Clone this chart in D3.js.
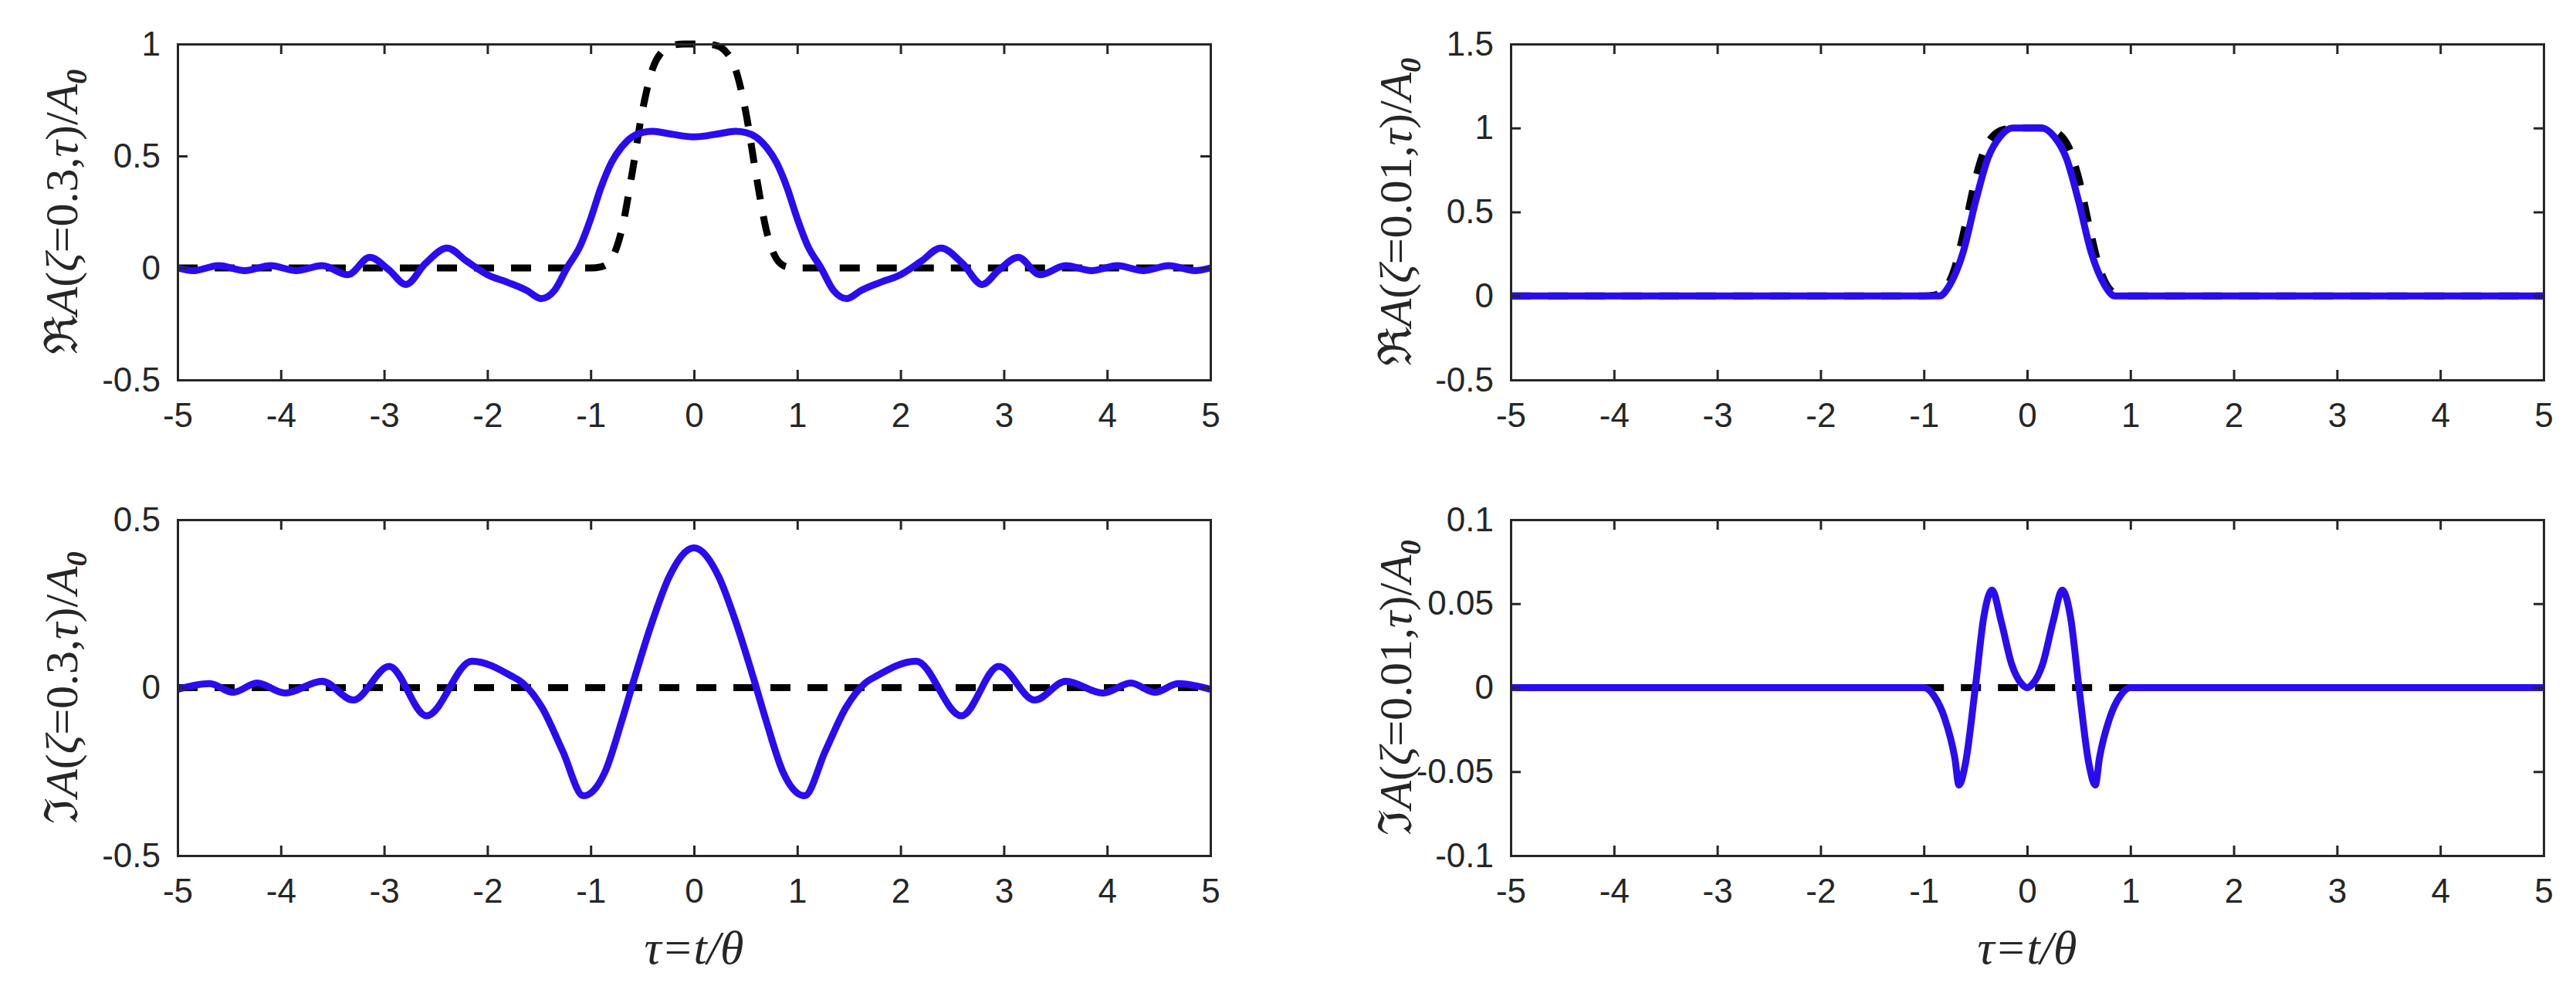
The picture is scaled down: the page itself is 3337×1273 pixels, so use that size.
<!DOCTYPE html>
<html>
<head>
<meta charset="utf-8">
<script src="https://cdn.jsdelivr.net/npm/d3@7"></script>
<style>
  body { margin: 0; background: #fff; }
  text { fill: #262626; }
</style>
</head>
<body>
<svg id="chart" width="3337" height="1273"></svg>
<script>
// x ticks shared by every panel
var xTicks = [-5, -4, -3, -2, -1, 0, 1, 2, 3, 4, 5];

// input pulse (black dashed), tau / value
var pulseTau = [-5, -1, -0.9, -0.8, -0.7, -0.6, -0.5, -0.4, -0.3, -0.2, -0.1, 0, 0.1, 0.2, 0.3, 0.4, 0.5, 0.6, 0.7, 0.8, 0.9, 1, 5];
var pulseVal = [0, 0, 0.005, 0.04, 0.17, 0.42, 0.7, 0.89, 0.97, 0.995, 1, 1, 1, 0.995, 0.97, 0.89, 0.7, 0.42, 0.17, 0.04, 0.005, 0, 0];

// Re A(zeta=0.3)
var re03Tau = [-5, -4.85, -4.6, -4.35, -4.1, -3.85, -3.6, -3.35, -3.14, -2.95, -2.79, -2.6, -2.39, -2.2, -2.0, -1.8, -1.62, -1.48, -1.35, -1.23, -1.1, -1.0, -0.9, -0.8, -0.7, -0.6, -0.5, -0.4, -0.25, 0,
                0.25, 0.4, 0.5, 0.6, 0.7, 0.8, 0.9, 1.0, 1.1, 1.23, 1.35, 1.48, 1.62, 1.8, 2.0, 2.2, 2.39, 2.6, 2.79, 2.95, 3.14, 3.35, 3.6, 3.85, 4.1, 4.35, 4.6, 4.85, 5];
var re03Val = [0, -0.012, 0.01, -0.012, 0.01, -0.012, 0.01, -0.03, 0.047, -0.01, -0.074, 0.02, 0.089, 0.03, -0.03, -0.065, -0.1, -0.137, -0.1, 0, 0.1, 0.22, 0.36, 0.47, 0.54, 0.585, 0.605, 0.61, 0.6, 0.585,
               0.6, 0.61, 0.605, 0.585, 0.54, 0.47, 0.36, 0.22, 0.1, 0, -0.1, -0.137, -0.1, -0.065, -0.03, 0.03, 0.089, 0.02, -0.074, -0.01, 0.047, -0.03, 0.01, -0.012, 0.01, -0.012, 0.01, -0.012, 0];

// Im A(zeta=0.3)
var im03Tau = [-5, -4.69, -4.46, -4.23, -3.96, -3.6, -3.3, -2.95, -2.59, -2.15, -1.77, -1.66, -1.47, -1.27, -1.07, -0.86, -0.7, -0.59, -0.4, -0.24, 0,
               0.24, 0.4, 0.59, 0.7, 0.86, 1.07, 1.27, 1.47, 1.66, 1.77, 2.15, 2.59, 2.95, 3.3, 3.6, 3.96, 4.23, 4.46, 4.69, 5];
var im03Val = [-0.005, 0.012, -0.014, 0.014, -0.016, 0.019, -0.037, 0.063, -0.084, 0.079, 0.035, 0.014, -0.06, -0.19, -0.322, -0.25, -0.1, 0.014, 0.2, 0.33, 0.416,
               0.33, 0.2, 0.014, -0.1, -0.25, -0.322, -0.19, -0.06, 0.014, 0.035, 0.079, -0.084, 0.063, -0.037, 0.019, -0.016, 0.014, -0.014, 0.012, -0.005];

// Re A(zeta=0.01)
var re001Tau = [-5, -0.85, -0.75, -0.62, -0.5, -0.38, -0.26, -0.14, 0, 0.14, 0.26, 0.38, 0.5, 0.62, 0.75, 0.85, 5];
var re001Val = [0, 0, 0.065, 0.26, 0.56, 0.82, 0.95, 1.0, 1.0, 1.0, 0.95, 0.82, 0.56, 0.26, 0.065, 0, 0];

// Im A(zeta=0.01)
var im001Tau = [-5, -1.0, -0.9, -0.8, -0.7, -0.66, -0.6, -0.5, -0.42, -0.34, -0.25, -0.15, -0.05, 0, 0.05, 0.15, 0.25, 0.34, 0.42, 0.5, 0.6, 0.66, 0.7, 0.8, 0.9, 1.0, 5];
var im001Val = [0, 0, -0.005, -0.018, -0.042, -0.058, -0.046, 0.001, 0.042, 0.058, 0.039, 0.014, 0.002, 0, 0.002, 0.014, 0.039, 0.058, 0.042, 0.001, -0.046, -0.058, -0.042, -0.018, -0.005, 0, 0];

var zeroTau = [-5, 5];
var zeroVal = [0, 0];
var zeroNarrowTau = [-1, 1];
var zeroNarrowVal = [0, 0];

function pairs(t, v) { return t.map(function (x, i) { return [x, v[i]]; }); }

var panels = [
    { left: 230, top: 57, yDomain: [-0.5, 1], yTicks: [-0.5, 0, 0.5, 1], part: "\u211C", zeta: "0.3", labelX: 80,
      dashed: pairs(pulseTau, pulseVal), solid: pairs(re03Tau, re03Val), xlabel: false },
    { left: 1957, top: 57, yDomain: [-0.5, 1.5], yTicks: [-0.5, 0, 0.5, 1, 1.5], part: "\u211C", zeta: "0.01", labelX: 1808,
      dashed: pairs(pulseTau, pulseVal), solid: pairs(re001Tau, re001Val), xlabel: false },
    { left: 230, top: 673, yDomain: [-0.5, 0.5], yTicks: [-0.5, 0, 0.5], part: "\u2111", zeta: "0.3", labelX: 80,
      dashed: pairs(zeroTau, zeroVal), solid: pairs(im03Tau, im03Val), xlabel: true },
    { left: 1957, top: 673, yDomain: [-0.1, 0.1], yTicks: [-0.1, -0.05, 0, 0.05, 0.1], part: "\u2111", zeta: "0.01", labelX: 1808,
      dashed: pairs(zeroNarrowTau, zeroNarrowVal), solid: pairs(im001Tau, im001Val), xlabel: true }
];

var W = 1338, H = 435;
var svg = d3.select("#chart");
var ink = "#262626";

panels.forEach(function (p) {
    var g = svg.append("g").attr("transform", "translate(" + p.left + "," + p.top + ")");
    var x = d3.scaleLinear().domain([-5, 5]).range([0, W]);
    var y = d3.scaleLinear().domain(p.yDomain).range([H, 0]);

    var line = d3.line()
        .x(function (d) { return x(d[0]); })
        .y(function (d) { return y(d[1]); })
        .curve(d3.curveMonotoneX);

    g.append("path")
        .attr("d", line(p.dashed))
        .style("fill", "none").style("stroke", "#000")
        .style("stroke-width", 9).style("stroke-dasharray", "26,22");

    g.append("path")
        .attr("d", line(p.solid))
        .style("fill", "none").style("stroke", "#2a0cf0")
        .style("stroke-width", 9).style("stroke-linejoin", "round");

    // axes, MATLAB-ish box with inward ticks
    var fmt = function (d) { return String(d); };
    var axB = g.append("g").attr("transform", "translate(0," + H + ")")
        .call(d3.axisBottom(x).tickValues(xTicks).tickSize(-13).tickPadding(30).tickFormat(fmt));
    var axT = g.append("g").call(d3.axisTop(x).tickValues(xTicks).tickSize(-13).tickFormat(""));
    var axL = g.append("g").call(d3.axisLeft(y).tickValues(p.yTicks).tickSize(-13).tickPadding(22).tickFormat(fmt));
    var axR = g.append("g").attr("transform", "translate(" + W + ",0)")
        .call(d3.axisRight(y).tickValues(p.yTicks).tickSize(-13).tickFormat(""));
    [axB, axT, axL, axR].forEach(function (a) {
        a.select(".domain").attr("stroke", ink).attr("stroke-width", 3);
        a.selectAll(".tick line").attr("stroke", ink).attr("stroke-width", 3);
        a.selectAll("text").style("font-family", "Liberation Sans, Arial, sans-serif")
            .style("font-size", "44px").attr("fill", ink);
    });

    // y label
    var lab = svg.append("text")
        .attr("transform", "translate(" + (p.labelX + 20) + "," + (p.top + H / 2) + ") rotate(-90)")
        .attr("text-anchor", "middle")
        .style("font-family", "Liberation Serif, Times New Roman, serif")
        .style("font-size", "60px");
    lab.append("tspan").text(p.part);
    lab.append("tspan").style("font-style", "italic").text("A");
    lab.append("tspan").text("(");
    lab.append("tspan").style("font-style", "italic").text("\u03B6");
    lab.append("tspan").text("=" + p.zeta + ",");
    lab.append("tspan").style("font-style", "italic").text("\u03C4");
    lab.append("tspan").text(")/");
    lab.append("tspan").style("font-style", "italic").text("A");
    lab.append("tspan").attr("dy", 12).style("font-size", "38px").style("font-weight", "bold").style("font-style", "italic").text("0");

    if (p.xlabel) {
        var xl = svg.append("text")
            .attr("x", p.left + W / 2).attr("y", 1248)
            .attr("text-anchor", "middle")
            .style("font-family", "Liberation Serif, Times New Roman, serif")
            .style("font-size", "62px").style("font-style", "italic");
        xl.text("\u03C4=t/\u03B8");
    }
});
</script>
</body>
</html>
